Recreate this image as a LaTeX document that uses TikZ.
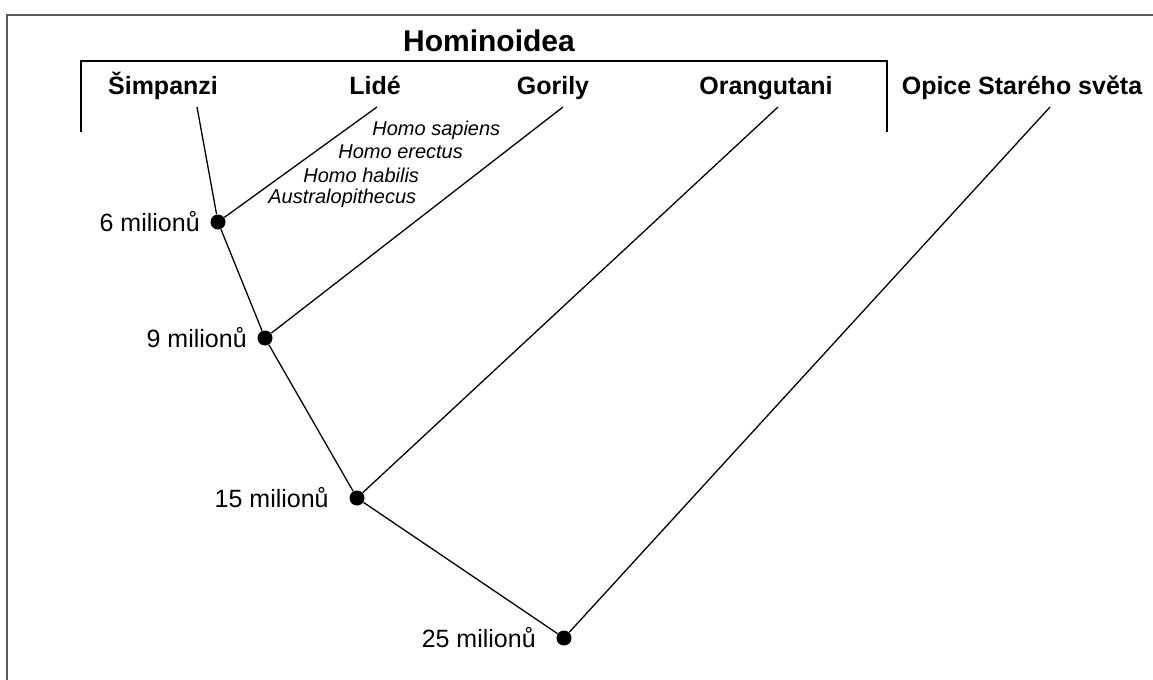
\documentclass[tikz,border=0pt]{standalone}
\usepackage{fontspec}
\setmainfont{Liberation Sans}
\usetikzlibrary{positioning}
\tikzset{
  group label/.style={
    font=\bfseries\fontsize{12.5}{15}\selectfont,
    anchor=base,
    inner sep=0pt
  },
  title label/.style={
    font=\bfseries\fontsize{15}{18}\selectfont,
    anchor=base,
    inner sep=0pt
  },
  species label/.style={
    font=\itshape\fontsize{10}{12}\selectfont,
    anchor=west,
    inner sep=0pt
  },
  age label/.style={
    font=\fontsize{12.5}{15}\selectfont,
    inner sep=0pt
  },
  branch/.style={
    line width=0.65pt
  },
  split dot/.style={
    circle,
    fill=black,
    inner sep=0pt,
    minimum size=7.5pt
  },
  frame line/.style={
    line width=0.8pt,
    color=black!65
  }
}

\begin{document}
\begin{tikzpicture}[x=0.5pt, y=-0.5pt]
    \useasboundingbox (0,0) rectangle (1153,680);
    % ramecek
    \draw[frame line] (7,680) -- (7,15) -- (1153,15);

    % nadcelad Hominoidea
    \node[title label] (hominoidea) at (489,52) {Hominoidea};
    \draw[branch] (81,132) -- (81,61) -- (887,61) -- (887,132);

    % skupiny
    \node[group label] (simpanzi) at (163,94) {Šimpanzi};
    \node[group label] (lide) at (375,94) {Lidé};
    \node[group label] (gorily) at (553,94) {Gorily};
    \node[group label] (orangutani) at (766,94) {Orangutani};
    \node[group label] (opice) at (1022,94) {Opice Starého světa};

    % konce vetvi
    \coordinate (simpanzi tip) at (197,107);
    \coordinate (lide tip) at (377,107);
    \coordinate (gorily tip) at (563,107);
    \coordinate (orangutani tip) at (778,107);
    \coordinate (opice tip) at (1050,107);

    % uzly vetveni
    \node[split dot] (n6) at (218,222) {};
    \node[split dot] (n9) at (265,338) {};
    \node[split dot] (n15) at (357,498) {};
    \node[split dot] (n25) at (564,638) {};

    % vetve
    \draw[branch] (simpanzi tip) -- (n6) -- (n9) -- (n15) -- (n25);
    \draw[branch] (lide tip) -- (n6);
    \draw[branch] (gorily tip) -- (n9);
    \draw[branch] (orangutani tip) -- (n15);
    \draw[branch] (opice tip) -- (n25);

    % stari
    \node[age label, left=5pt of n6] (age6) {6 milionů};
    \node[age label, left=5pt of n9] (age9) {9 milionů};
    \node[age label, left=10pt of n15] (age15) {15 milionů};
    \node[age label, left=10pt of n25] (age25) {25 milionů};

    % druhy cloveka
    \node[species label] (sapiens) at (372,130) {Homo sapiens};
    \node[species label] (erectus) at (338,152) {Homo erectus};
    \node[species label] (habilis) at (303,175) {Homo habilis};
    \node[species label] (australo) at (268,198) {Australopithecus};
\end{tikzpicture}
\end{document}
